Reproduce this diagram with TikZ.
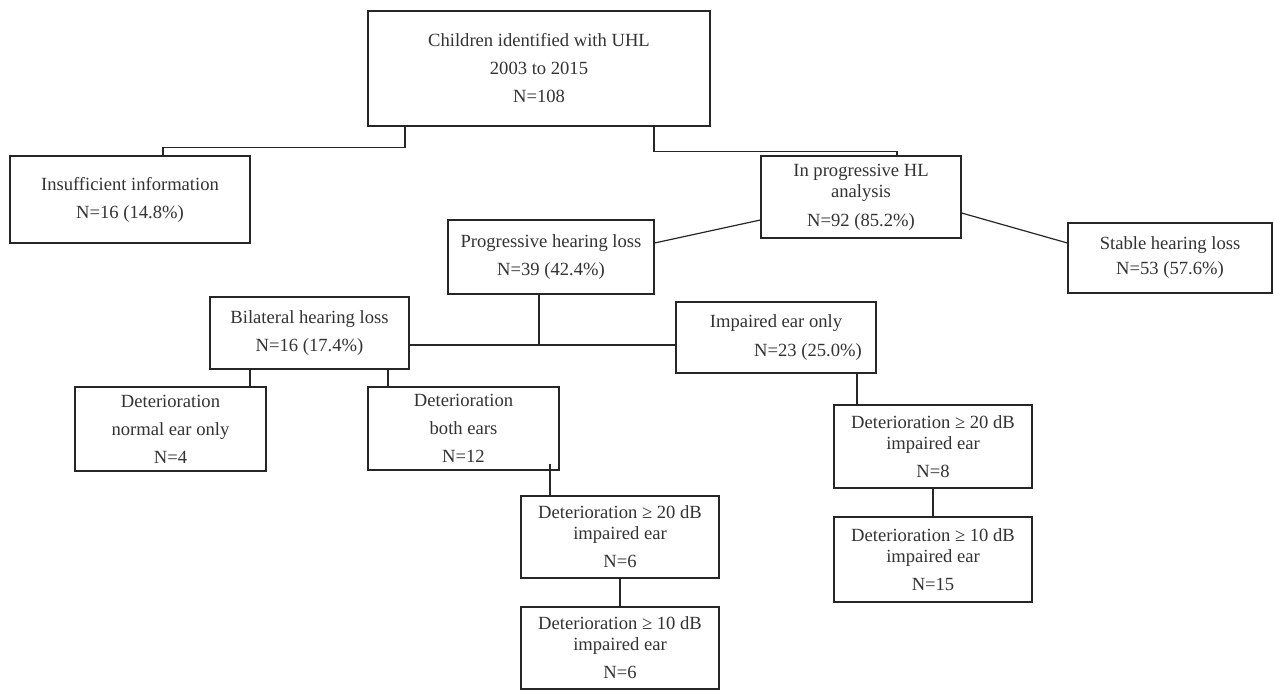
\documentclass[tikz,border=0pt]{standalone}
\usepackage{fontspec}
\setmainfont{Liberation Serif}
\begin{document}
\begin{tikzpicture}[x=1pt,y=-1pt,
  box/.style={draw=black!85,line width=1.2pt,inner sep=0pt,align=center,text=black!80,
    font=\fontsize{18.6}{21}\selectfont},
  conn/.style={draw=black!85,line width=1.2pt}]
\useasboundingbox[fill=white] (0,0) rectangle (1274,693);
\node[box,minimum width=342pt,minimum height=115pt] (top) at (539,68.5)
  {Children identified with UHL\\[7pt]2003 to 2015\\[7pt]N=108};
\node[box,minimum width=240pt,minimum height=87pt] (insuf) at (130,199.5)
  {Insufficient information\\[7pt]N=16 (14.8\%)};
\node[box,minimum width=200pt,minimum height=82pt] (inprog) at (861,197)
  {In progressive HL\\analysis\\[8pt]N=92 (85.2\%)};
\node[box,minimum width=206pt,minimum height=74pt] (prog) at (551,257)
  {Progressive hearing loss\\[7pt]N=39 (42.4\%)};
\node[box,minimum width=204pt,minimum height=70pt] (stable) at (1170,258)
  {Stable hearing loss\\[4pt]N=53 (57.6\%)};
\node[box,minimum width=199pt,minimum height=72pt] (bil) at (309.5,333)
  {Bilateral hearing loss\\[7pt]N=16 (17.4\%)};
\node[box,minimum width=200pt,minimum height=71pt] (imp) at (776,337.5)
  {Impaired ear only\\[8pt]\hspace*{64pt}N=23 (25.0\%)};
\node[box,minimum width=191pt,minimum height=84pt] (dnorm) at (170.5,429)
  {Deterioration\\[7pt]normal ear only\\[7pt]N=4};
\node[box,minimum width=191pt,minimum height=83pt] (dboth) at (463.5,428.5)
  {Deterioration\\[7pt]both ears\\[7pt]N=12};
\node[box,minimum width=198pt,minimum height=82pt] (dtwL) at (620,537)
  {Deterioration ≥ 20 dB\\impaired ear\\[7pt]N=6};
\node[box,minimum width=198pt,minimum height=82pt] (dtenL) at (620,648)
  {Deterioration ≥ 10 dB\\impaired ear\\[7pt]N=6};
\node[box,minimum width=198pt,minimum height=83pt] (dtwR) at (933,446.5)
  {Deterioration ≥ 20 dB\\impaired ear\\[7pt]N=8};
\node[box,minimum width=198pt,minimum height=85pt] (dtenR) at (933,559.5)
  {Deterioration ≥ 10 dB\\impaired ear\\[7pt]N=15};
\coordinate (j) at (539,345);
\draw[conn] ([xshift=-134pt]top.south) -- ++(0,21) -| ([xshift=33pt]insuf.north);
\draw[conn] ([xshift=115pt]top.south) -- ++(0,25) -| ([xshift=36pt]inprog.north);
\draw[conn] ([yshift=14pt]prog.east) -- ([yshift=-23pt]inprog.west);
\draw[conn] ([yshift=-16pt]inprog.east) -- ([yshift=15pt]stable.west);
\draw[conn] ([xshift=-12pt]prog.south) -- (j);
\draw[conn] ([yshift=-12pt]bil.east) -- ([yshift=-7.5pt]imp.west);
\draw[conn] ([xshift=-59.5pt]bil.south) -- ++(0,18);
\draw[conn] ([xshift=78.5pt]bil.south) -- ++(0,18);
\draw[conn,line width=1.6pt] ([xshift=86.5pt,yshift=7pt]dboth.south) -- ([xshift=-70pt]dtwL.north);
\draw[conn,line width=1.6pt] (dtwL.south) -- (dtenL.north);
\draw[conn] ([xshift=81pt]imp.south) -- ([xshift=-76pt]dtwR.north);
\draw[conn,line width=1.6pt] (dtwR.south) -- (dtenR.north);
\end{tikzpicture}
\end{document}
